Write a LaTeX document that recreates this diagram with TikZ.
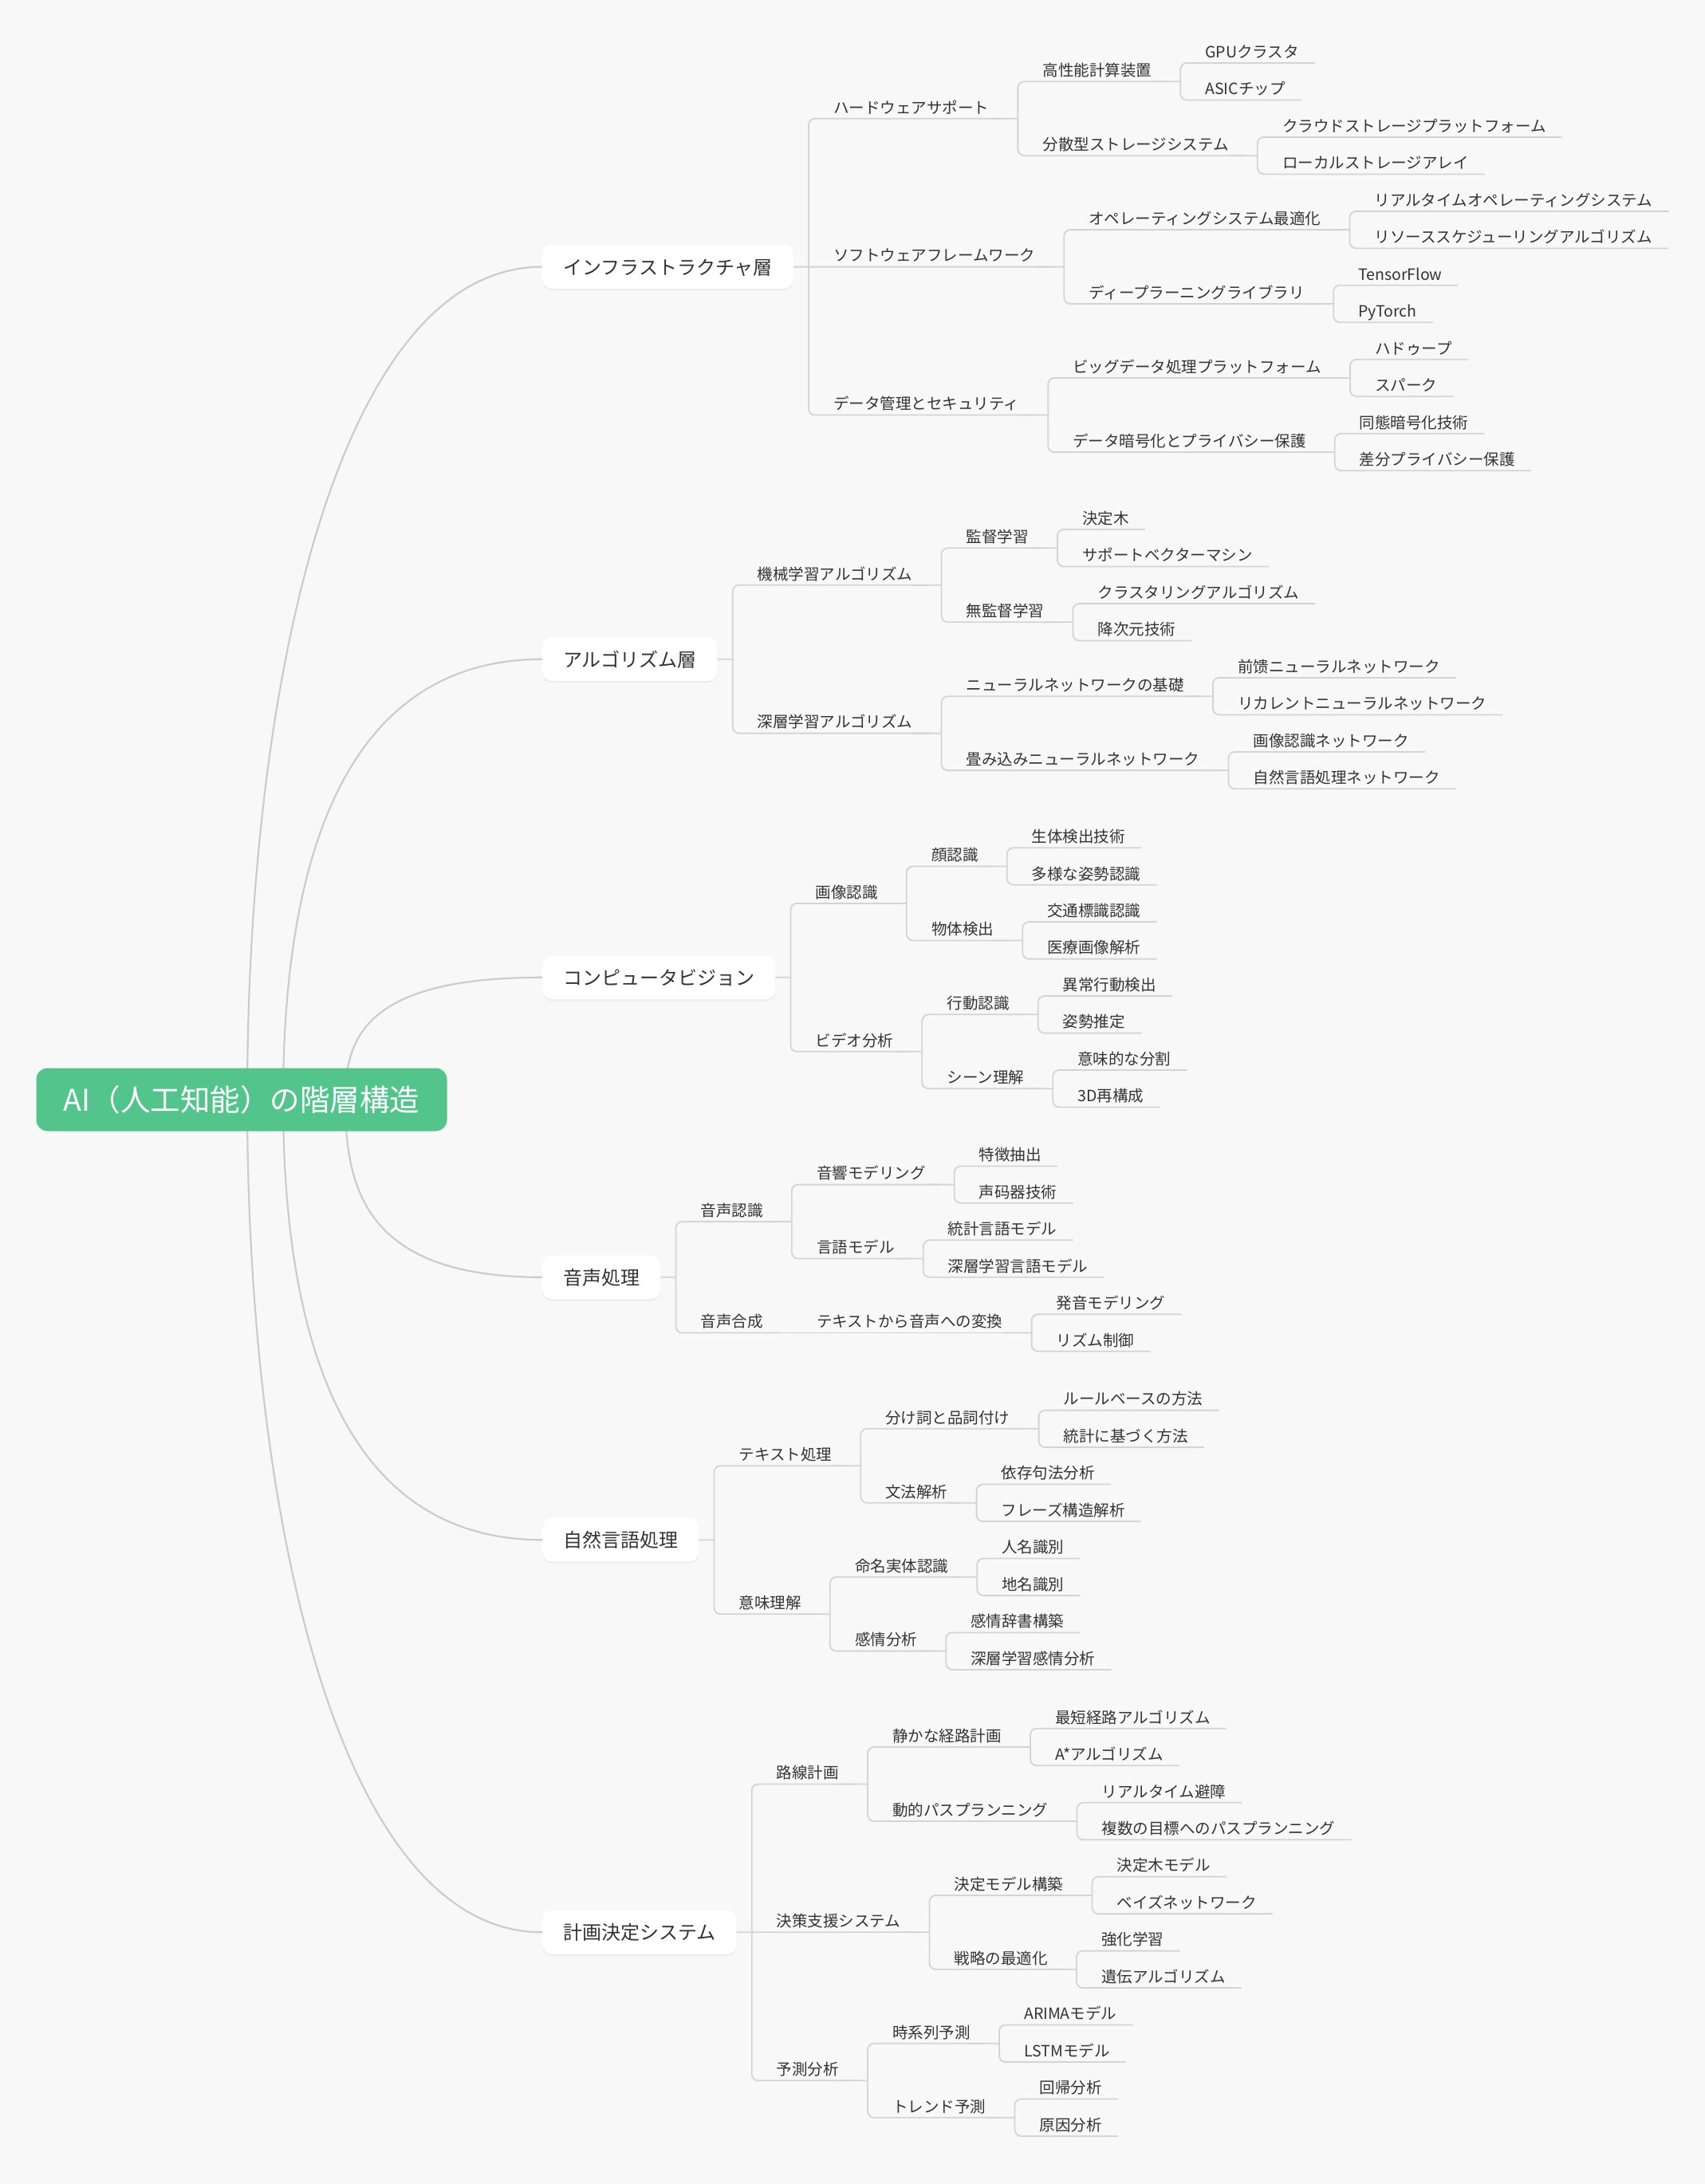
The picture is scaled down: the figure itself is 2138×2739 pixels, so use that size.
\documentclass[tikz,border=0pt]{standalone}
\usepackage{fontspec}
\setmainfont{Noto Sans CJK JP}
\usetikzlibrary{calc,positioning,shadows}

\definecolor{bgcol}{HTML}{F8F8F8}
\definecolor{rootgreen}{HTML}{52C48C}
\definecolor{trunkgray}{HTML}{CCCCCC}
\definecolor{linegray}{HTML}{D4D4D4}
\definecolor{textgray}{HTML}{333333}

\pgfdeclarelayer{bg}
\pgfdeclarelayer{lines}
\pgfsetlayers{bg,lines,main}

\tikzset{
  root/.style={fill=rootgreen, text=white, rounded corners=14pt, inner sep=0pt,
    minimum width=515pt, minimum height=79pt, text height=30pt, text depth=2pt,
    font=\fontsize{37.5}{42}\selectfont},
  layer/.style={fill=white, text=textgray, rounded corners=12pt, anchor=west,
    inner xsep=26pt, inner ysep=0pt, minimum height=55pt, text height=20pt, text depth=1pt,
    font=\fontsize{24}{28}\selectfont,
    drop shadow={shadow xshift=0pt, shadow yshift=-2pt, opacity=0.05, fill=black}},
  topic/.style={text=textgray, anchor=south west, inner sep=0pt,
    text height=17pt, text depth=6.5pt, font=\fontsize{19.5}{23}\selectfont},
  trunk/.style={draw=trunkgray, line width=2.2pt},
  branch/.style={draw=linegray, line width=1.8pt, rounded corners=8pt}
}

\begin{document}
\begin{tikzpicture}[x=1pt, y=-1pt]
    \useasboundingbox (0,0) rectangle (2138,2739);
    \begin{pgfonlayer}{bg}
        \fill[bgcol] (0,0) rectangle (2138,2739); % page
    \end{pgfonlayer}

    % Root
    \node[root] (root) at (303,1379) {AI（人工知能）の階層構造};

    % Main layers
    \node[layer] (infra) at (680,334.6) {インフラストラクチャ層};
    \node[layer] (algo) at (680,826.7) {アルゴリズム層};
    \node[layer] (cv) at (680,1225.8) {コンピュータビジョン};
    \node[layer] (speech) at (680,1601.8) {音声処理};
    \node[layer] (nlp) at (680,1931.2) {自然言語処理};
    \node[layer] (plan) at (680,2423.3) {計画決定システム};

    % Infrastructure
    \node[topic] (hw) at ($(infra.east |- 0,148.7)+(50,0)$) {ハードウェアサポート};
    \node[topic] (hpc) at ($(hw.east |- 0,102.2)+(67,0)$) {高性能計算装置};
    \node[topic] (gpu) at ($(hpc.east |- 0,79.0)+(67,0)$) {GPUクラスタ};
    \node[topic] (asic) at ($(hpc.east |- 0,125.5)+(67,0)$) {ASICチップ};
    \node[topic] (dist) at ($(hw.east |- 0,195.2)+(67,0)$) {分散型ストレージシステム};
    \node[topic] (cloud) at ($(dist.east |- 0,171.9)+(67,0)$) {クラウドストレージプラットフォーム};
    \node[topic] (localst) at ($(dist.east |- 0,218.4)+(67,0)$) {ローカルストレージアレイ};
    \node[topic] (sw) at ($(infra.east |- 0,334.6)+(50,0)$) {ソフトウェアフレームワーク};
    \node[topic] (os) at ($(sw.east |- 0,288.1)+(67,0)$) {オペレーティングシステム最適化};
    \node[topic] (rtos) at ($(os.east |- 0,264.9)+(67,0)$) {リアルタイムオペレーティングシステム};
    \node[topic] (sched) at ($(os.east |- 0,311.4)+(67,0)$) {リソーススケジューリングアルゴリズム};
    \node[topic] (dl) at ($(sw.east |- 0,381.1)+(67,0)$) {ディープラーニングライブラリ};
    \node[topic] (tf) at ($(dl.east |- 0,357.8)+(67,0)$) {TensorFlow};
    \node[topic] (torch) at ($(dl.east |- 0,404.3)+(67,0)$) {PyTorch};
    \node[topic] (data) at ($(infra.east |- 0,520.5)+(50,0)$) {データ管理とセキュリティ};
    \node[topic] (big) at ($(data.east |- 0,474.0)+(67,0)$) {ビッグデータ処理プラットフォーム};
    \node[topic] (hadoop) at ($(big.east |- 0,450.8)+(67,0)$) {ハドゥープ};
    \node[topic] (spark) at ($(big.east |- 0,497.2)+(67,0)$) {スパーク};
    \node[topic] (enc) at ($(data.east |- 0,567.0)+(67,0)$) {データ暗号化とプライバシー保護};
    \node[topic] (homo) at ($(enc.east |- 0,543.7)+(67,0)$) {同態暗号化技術};
    \node[topic] (dp) at ($(enc.east |- 0,590.2)+(67,0)$) {差分プライバシー保護};

    % Algorithms
    \node[topic] (ml) at ($(algo.east |- 0,733.7)+(50,0)$) {機械学習アルゴリズム};
    \node[topic] (sup) at ($(ml.east |- 0,687.3)+(67,0)$) {監督学習};
    \node[topic] (tree) at ($(sup.east |- 0,664.0)+(67,0)$) {決定木};
    \node[topic] (svm) at ($(sup.east |- 0,710.5)+(67,0)$) {サポートベクターマシン};
    \node[topic] (unsup) at ($(ml.east |- 0,780.2)+(67,0)$) {無監督学習};
    \node[topic] (clus) at ($(unsup.east |- 0,757.0)+(67,0)$) {クラスタリングアルゴリズム};
    \node[topic] (dimred) at ($(unsup.east |- 0,803.5)+(67,0)$) {降次元技術};
    \node[topic] (deep) at ($(algo.east |- 0,919.6)+(50,0)$) {深層学習アルゴリズム};
    \node[topic] (nnb) at ($(deep.east |- 0,873.2)+(67,0)$) {ニューラルネットワークの基礎};
    \node[topic] (ffnn) at ($(nnb.east |- 0,849.9)+(67,0)$) {前馈ニューラルネットワーク};
    \node[topic] (rnn) at ($(nnb.east |- 0,896.4)+(67,0)$) {リカレントニューラルネットワーク};
    \node[topic] (cnn) at ($(deep.east |- 0,966.1)+(67,0)$) {畳み込みニューラルネットワーク};
    \node[topic] (imgnet) at ($(cnn.east |- 0,942.9)+(67,0)$) {画像認識ネットワーク};
    \node[topic] (nlpnet) at ($(cnn.east |- 0,989.3)+(67,0)$) {自然言語処理ネットワーク};

    % Computer vision
    \node[topic] (imgrec) at ($(cv.east |- 0,1132.9)+(50,0)$) {画像認識};
    \node[topic] (face) at ($(imgrec.east |- 0,1086.4)+(67,0)$) {顔認識};
    \node[topic] (live) at ($(face.east |- 0,1063.2)+(67,0)$) {生体検出技術};
    \node[topic] (pose) at ($(face.east |- 0,1109.7)+(67,0)$) {多様な姿勢認識};
    \node[topic] (obj) at ($(imgrec.east |- 0,1179.4)+(67,0)$) {物体検出};
    \node[topic] (traffic) at ($(obj.east |- 0,1156.1)+(67,0)$) {交通標識認識};
    \node[topic] (medical) at ($(obj.east |- 0,1202.6)+(67,0)$) {医療画像解析};
    \node[topic] (video) at ($(cv.east |- 0,1318.8)+(50,0)$) {ビデオ分析};
    \node[topic] (act) at ($(video.east |- 0,1272.3)+(67,0)$) {行動認識};
    \node[topic] (abnormal) at ($(act.east |- 0,1249.1)+(67,0)$) {異常行動検出};
    \node[topic] (poseest) at ($(act.east |- 0,1295.6)+(67,0)$) {姿勢推定};
    \node[topic] (scene) at ($(video.east |- 0,1365.3)+(67,0)$) {シーン理解};
    \node[topic] (semseg) at ($(scene.east |- 0,1342.0)+(67,0)$) {意味的な分割};
    \node[topic] (recon) at ($(scene.east |- 0,1388.5)+(67,0)$) {3D再構成};

    % Speech
    \node[topic] (asr) at ($(speech.east |- 0,1532.1)+(50,0)$) {音声認識};
    \node[topic] (am) at ($(asr.east |- 0,1485.6)+(67,0)$) {音響モデリング};
    \node[topic] (feat) at ($(am.east |- 0,1462.4)+(67,0)$) {特徴抽出};
    \node[topic] (vocoder) at ($(am.east |- 0,1508.8)+(67,0)$) {声码器技術};
    \node[topic] (lm) at ($(asr.east |- 0,1578.5)+(67,0)$) {言語モデル};
    \node[topic] (statlm) at ($(lm.east |- 0,1555.3)+(67,0)$) {統計言語モデル};
    \node[topic] (deeplm) at ($(lm.east |- 0,1601.8)+(67,0)$) {深層学習言語モデル};
    \node[topic] (synth) at ($(speech.east |- 0,1671.5)+(50,0)$) {音声合成};
    \node[topic] (tts) at ($(synth.east |- 0,1671.5)+(67,0)$) {テキストから音声への変換};
    \node[topic] (pron) at ($(tts.east |- 0,1648.2)+(67,0)$) {発音モデリング};
    \node[topic] (rhythm) at ($(tts.east |- 0,1694.7)+(67,0)$) {リズム制御};

    % Natural language
    \node[topic] (textp) at ($(nlp.east |- 0,1838.3)+(50,0)$) {テキスト処理};
    \node[topic] (seg) at ($(textp.east |- 0,1791.8)+(67,0)$) {分け詞と品詞付け};
    \node[topic] (rule) at ($(seg.east |- 0,1768.6)+(67,0)$) {ルールベースの方法};
    \node[topic] (statm) at ($(seg.east |- 0,1815.1)+(67,0)$) {統計に基づく方法};
    \node[topic] (syn) at ($(textp.east |- 0,1884.8)+(67,0)$) {文法解析};
    \node[topic] (dep) at ($(syn.east |- 0,1861.5)+(67,0)$) {依存句法分析};
    \node[topic] (phrase) at ($(syn.east |- 0,1908.0)+(67,0)$) {フレーズ構造解析};
    \node[topic] (sem) at ($(nlp.east |- 0,2024.2)+(50,0)$) {意味理解};
    \node[topic] (ner) at ($(sem.east |- 0,1977.7)+(67,0)$) {命名実体認識};
    \node[topic] (person) at ($(ner.east |- 0,1954.5)+(67,0)$) {人名識別};
    \node[topic] (place) at ($(ner.east |- 0,2000.9)+(67,0)$) {地名識別};
    \node[topic] (senti) at ($(sem.east |- 0,2070.6)+(67,0)$) {感情分析};
    \node[topic] (lexicon) at ($(senti.east |- 0,2047.4)+(67,0)$) {感情辞書構築};
    \node[topic] (deepsenti) at ($(senti.east |- 0,2093.9)+(67,0)$) {深層学習感情分析};

    % Planning and decision
    \node[topic] (route) at ($(plan.east |- 0,2237.5)+(50,0)$) {路線計画};
    \node[topic] (static) at ($(route.east |- 0,2191.0)+(67,0)$) {静かな経路計画};
    \node[topic] (shortest) at ($(static.east |- 0,2167.7)+(67,0)$) {最短経路アルゴリズム};
    \node[topic] (astar) at ($(static.east |- 0,2214.2)+(67,0)$) {A*アルゴリズム};
    \node[topic] (dyn) at ($(route.east |- 0,2283.9)+(67,0)$) {動的パスプランニング};
    \node[topic] (avoid) at ($(dyn.east |- 0,2260.7)+(67,0)$) {リアルタイム避障};
    \node[topic] (multi) at ($(dyn.east |- 0,2307.2)+(67,0)$) {複数の目標へのパスプランニング};
    \node[topic] (dec) at ($(plan.east |- 0,2423.3)+(50,0)$) {決策支援システム};
    \node[topic] (dm) at ($(dec.east |- 0,2376.9)+(67,0)$) {決定モデル構築};
    \node[topic] (dtm) at ($(dm.east |- 0,2353.6)+(67,0)$) {決定木モデル};
    \node[topic] (bayes) at ($(dm.east |- 0,2400.1)+(67,0)$) {ベイズネットワーク};
    \node[topic] (strat) at ($(dec.east |- 0,2469.8)+(67,0)$) {戦略の最適化};
    \node[topic] (rl) at ($(strat.east |- 0,2446.6)+(67,0)$) {強化学習};
    \node[topic] (ga) at ($(strat.east |- 0,2493.0)+(67,0)$) {遺伝アルゴリズム};
    \node[topic] (pred) at ($(plan.east |- 0,2609.2)+(50,0)$) {予測分析};
    \node[topic] (ts) at ($(pred.east |- 0,2562.7)+(67,0)$) {時系列予測};
    \node[topic] (arima) at ($(ts.east |- 0,2539.5)+(67,0)$) {ARIMAモデル};
    \node[topic] (lstm) at ($(ts.east |- 0,2586.0)+(67,0)$) {LSTMモデル};
    \node[topic] (trend) at ($(pred.east |- 0,2655.7)+(67,0)$) {トレンド予測};
    \node[topic] (regr) at ($(trend.east |- 0,2632.4)+(67,0)$) {回帰分析};
    \node[topic] (cause) at ($(trend.east |- 0,2678.9)+(67,0)$) {原因分析};

    \begin{pgfonlayer}{lines}
        % Curves from the root
        \draw[trunk] ([xshift=7pt]root.center) .. controls +(0,-522) and +(-256,0) .. (infra.west);
        \draw[trunk] ([xshift=52pt]root.center) .. controls +(0,-276) and +(-260,0) .. (algo.west);
        \draw[trunk] ([xshift=130pt]root.center) .. controls +(0,-77) and +(-223,0) .. (cv.west);
        \draw[trunk] ([xshift=130pt]root.center) .. controls +(0,111) and +(-223,0) .. (speech.west);
        \draw[trunk] ([xshift=52pt]root.center) .. controls +(0,276) and +(-260,0) .. (nlp.west);
        \draw[trunk] ([xshift=7pt]root.center) .. controls +(0,522) and +(-256,0) .. (plan.west);

        % Layer boxes to their topics
        \draw[branch] (infra.east) -- ++(19,0)
            ([xshift=19pt]infra.east) |- ([xshift=20pt]hw.south east)
            ([xshift=19pt]infra.east) -- ([xshift=20pt]sw.south east)
            ([xshift=19pt]infra.east) |- ([xshift=20pt]data.south east);
        \draw[branch] (algo.east) -- ++(19,0)
            ([xshift=19pt]algo.east) |- ([xshift=20pt]ml.south east)
            ([xshift=19pt]algo.east) |- ([xshift=20pt]deep.south east);
        \draw[branch] (cv.east) -- ++(19,0)
            ([xshift=19pt]cv.east) |- ([xshift=20pt]imgrec.south east)
            ([xshift=19pt]cv.east) |- ([xshift=20pt]video.south east);
        \draw[branch] (speech.east) -- ++(19,0)
            ([xshift=19pt]speech.east) |- ([xshift=20pt]asr.south east)
            ([xshift=19pt]speech.east) |- ([xshift=20pt]synth.south east);
        \draw[branch] (nlp.east) -- ++(19,0)
            ([xshift=19pt]nlp.east) |- ([xshift=20pt]textp.south east)
            ([xshift=19pt]nlp.east) |- ([xshift=20pt]sem.south east);
        \draw[branch] (plan.east) -- ++(19,0)
            ([xshift=19pt]plan.east) |- ([xshift=20pt]route.south east)
            ([xshift=19pt]plan.east) -- ([xshift=20pt]dec.south east)
            ([xshift=19pt]plan.east) |- ([xshift=20pt]pred.south east);

        % Infrastructure brackets
        \draw[branch] (hw.south east) -- ++(36,0)
            ([xshift=36pt]hw.south east) |- ([xshift=20pt]hpc.south east)
            ([xshift=36pt]hw.south east) |- ([xshift=20pt]dist.south east);
        \draw[branch] (hpc.south east) -- ++(36,0)
            ([xshift=36pt]hpc.south east) |- ([xshift=20pt]gpu.south east)
            ([xshift=36pt]hpc.south east) |- ([xshift=20pt]asic.south east);
        \draw[branch] (dist.south east) -- ++(36,0)
            ([xshift=36pt]dist.south east) |- ([xshift=20pt]cloud.south east)
            ([xshift=36pt]dist.south east) |- ([xshift=20pt]localst.south east);
        \draw[branch] (sw.south east) -- ++(36,0)
            ([xshift=36pt]sw.south east) |- ([xshift=20pt]os.south east)
            ([xshift=36pt]sw.south east) |- ([xshift=20pt]dl.south east);
        \draw[branch] (os.south east) -- ++(36,0)
            ([xshift=36pt]os.south east) |- ([xshift=20pt]rtos.south east)
            ([xshift=36pt]os.south east) |- ([xshift=20pt]sched.south east);
        \draw[branch] (dl.south east) -- ++(36,0)
            ([xshift=36pt]dl.south east) |- ([xshift=20pt]tf.south east)
            ([xshift=36pt]dl.south east) |- ([xshift=20pt]torch.south east);
        \draw[branch] (data.south east) -- ++(36,0)
            ([xshift=36pt]data.south east) |- ([xshift=20pt]big.south east)
            ([xshift=36pt]data.south east) |- ([xshift=20pt]enc.south east);
        \draw[branch] (big.south east) -- ++(36,0)
            ([xshift=36pt]big.south east) |- ([xshift=20pt]hadoop.south east)
            ([xshift=36pt]big.south east) |- ([xshift=20pt]spark.south east);
        \draw[branch] (enc.south east) -- ++(36,0)
            ([xshift=36pt]enc.south east) |- ([xshift=20pt]homo.south east)
            ([xshift=36pt]enc.south east) |- ([xshift=20pt]dp.south east);

        % Algorithm brackets
        \draw[branch] (ml.south east) -- ++(36,0)
            ([xshift=36pt]ml.south east) |- ([xshift=20pt]sup.south east)
            ([xshift=36pt]ml.south east) |- ([xshift=20pt]unsup.south east);
        \draw[branch] (sup.south east) -- ++(36,0)
            ([xshift=36pt]sup.south east) |- ([xshift=20pt]tree.south east)
            ([xshift=36pt]sup.south east) |- ([xshift=20pt]svm.south east);
        \draw[branch] (unsup.south east) -- ++(36,0)
            ([xshift=36pt]unsup.south east) |- ([xshift=20pt]clus.south east)
            ([xshift=36pt]unsup.south east) |- ([xshift=20pt]dimred.south east);
        \draw[branch] (deep.south east) -- ++(36,0)
            ([xshift=36pt]deep.south east) |- ([xshift=20pt]nnb.south east)
            ([xshift=36pt]deep.south east) |- ([xshift=20pt]cnn.south east);
        \draw[branch] (nnb.south east) -- ++(36,0)
            ([xshift=36pt]nnb.south east) |- ([xshift=20pt]ffnn.south east)
            ([xshift=36pt]nnb.south east) |- ([xshift=20pt]rnn.south east);
        \draw[branch] (cnn.south east) -- ++(36,0)
            ([xshift=36pt]cnn.south east) |- ([xshift=20pt]imgnet.south east)
            ([xshift=36pt]cnn.south east) |- ([xshift=20pt]nlpnet.south east);

        % Vision brackets
        \draw[branch] (imgrec.south east) -- ++(36,0)
            ([xshift=36pt]imgrec.south east) |- ([xshift=20pt]face.south east)
            ([xshift=36pt]imgrec.south east) |- ([xshift=20pt]obj.south east);
        \draw[branch] (face.south east) -- ++(36,0)
            ([xshift=36pt]face.south east) |- ([xshift=20pt]live.south east)
            ([xshift=36pt]face.south east) |- ([xshift=20pt]pose.south east);
        \draw[branch] (obj.south east) -- ++(36,0)
            ([xshift=36pt]obj.south east) |- ([xshift=20pt]traffic.south east)
            ([xshift=36pt]obj.south east) |- ([xshift=20pt]medical.south east);
        \draw[branch] (video.south east) -- ++(36,0)
            ([xshift=36pt]video.south east) |- ([xshift=20pt]act.south east)
            ([xshift=36pt]video.south east) |- ([xshift=20pt]scene.south east);
        \draw[branch] (act.south east) -- ++(36,0)
            ([xshift=36pt]act.south east) |- ([xshift=20pt]abnormal.south east)
            ([xshift=36pt]act.south east) |- ([xshift=20pt]poseest.south east);
        \draw[branch] (scene.south east) -- ++(36,0)
            ([xshift=36pt]scene.south east) |- ([xshift=20pt]semseg.south east)
            ([xshift=36pt]scene.south east) |- ([xshift=20pt]recon.south east);

        % Speech brackets
        \draw[branch] (asr.south east) -- ++(36,0)
            ([xshift=36pt]asr.south east) |- ([xshift=20pt]am.south east)
            ([xshift=36pt]asr.south east) |- ([xshift=20pt]lm.south east);
        \draw[branch] (am.south east) -- ++(36,0)
            ([xshift=36pt]am.south east) |- ([xshift=20pt]feat.south east)
            ([xshift=36pt]am.south east) |- ([xshift=20pt]vocoder.south east);
        \draw[branch] (lm.south east) -- ++(36,0)
            ([xshift=36pt]lm.south east) |- ([xshift=20pt]statlm.south east)
            ([xshift=36pt]lm.south east) |- ([xshift=20pt]deeplm.south east);
        \draw[branch] (synth.south east) -- ([xshift=20pt]tts.south east);
        \draw[branch] (tts.south east) -- ++(36,0)
            ([xshift=36pt]tts.south east) |- ([xshift=20pt]pron.south east)
            ([xshift=36pt]tts.south east) |- ([xshift=20pt]rhythm.south east);

        % Language brackets
        \draw[branch] (textp.south east) -- ++(36,0)
            ([xshift=36pt]textp.south east) |- ([xshift=20pt]seg.south east)
            ([xshift=36pt]textp.south east) |- ([xshift=20pt]syn.south east);
        \draw[branch] (seg.south east) -- ++(36,0)
            ([xshift=36pt]seg.south east) |- ([xshift=20pt]rule.south east)
            ([xshift=36pt]seg.south east) |- ([xshift=20pt]statm.south east);
        \draw[branch] (syn.south east) -- ++(36,0)
            ([xshift=36pt]syn.south east) |- ([xshift=20pt]dep.south east)
            ([xshift=36pt]syn.south east) |- ([xshift=20pt]phrase.south east);
        \draw[branch] (sem.south east) -- ++(36,0)
            ([xshift=36pt]sem.south east) |- ([xshift=20pt]ner.south east)
            ([xshift=36pt]sem.south east) |- ([xshift=20pt]senti.south east);
        \draw[branch] (ner.south east) -- ++(36,0)
            ([xshift=36pt]ner.south east) |- ([xshift=20pt]person.south east)
            ([xshift=36pt]ner.south east) |- ([xshift=20pt]place.south east);
        \draw[branch] (senti.south east) -- ++(36,0)
            ([xshift=36pt]senti.south east) |- ([xshift=20pt]lexicon.south east)
            ([xshift=36pt]senti.south east) |- ([xshift=20pt]deepsenti.south east);

        % Planning brackets
        \draw[branch] (route.south east) -- ++(36,0)
            ([xshift=36pt]route.south east) |- ([xshift=20pt]static.south east)
            ([xshift=36pt]route.south east) |- ([xshift=20pt]dyn.south east);
        \draw[branch] (static.south east) -- ++(36,0)
            ([xshift=36pt]static.south east) |- ([xshift=20pt]shortest.south east)
            ([xshift=36pt]static.south east) |- ([xshift=20pt]astar.south east);
        \draw[branch] (dyn.south east) -- ++(36,0)
            ([xshift=36pt]dyn.south east) |- ([xshift=20pt]avoid.south east)
            ([xshift=36pt]dyn.south east) |- ([xshift=20pt]multi.south east);
        \draw[branch] (dec.south east) -- ++(36,0)
            ([xshift=36pt]dec.south east) |- ([xshift=20pt]dm.south east)
            ([xshift=36pt]dec.south east) |- ([xshift=20pt]strat.south east);
        \draw[branch] (dm.south east) -- ++(36,0)
            ([xshift=36pt]dm.south east) |- ([xshift=20pt]dtm.south east)
            ([xshift=36pt]dm.south east) |- ([xshift=20pt]bayes.south east);
        \draw[branch] (strat.south east) -- ++(36,0)
            ([xshift=36pt]strat.south east) |- ([xshift=20pt]rl.south east)
            ([xshift=36pt]strat.south east) |- ([xshift=20pt]ga.south east);
        \draw[branch] (pred.south east) -- ++(36,0)
            ([xshift=36pt]pred.south east) |- ([xshift=20pt]ts.south east)
            ([xshift=36pt]pred.south east) |- ([xshift=20pt]trend.south east);
        \draw[branch] (ts.south east) -- ++(36,0)
            ([xshift=36pt]ts.south east) |- ([xshift=20pt]arima.south east)
            ([xshift=36pt]ts.south east) |- ([xshift=20pt]lstm.south east);
        \draw[branch] (trend.south east) -- ++(36,0)
            ([xshift=36pt]trend.south east) |- ([xshift=20pt]regr.south east)
            ([xshift=36pt]trend.south east) |- ([xshift=20pt]cause.south east);
    \end{pgfonlayer}
\end{tikzpicture}
\end{document}
